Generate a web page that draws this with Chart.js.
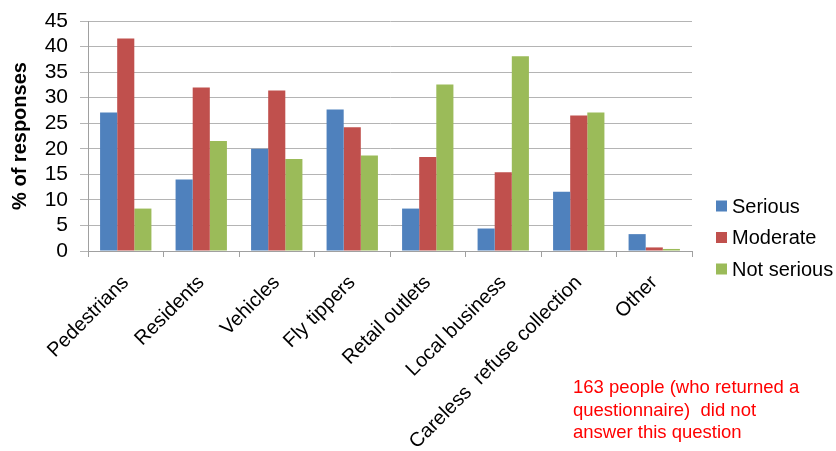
<!DOCTYPE html>
<html>
<head>
<meta charset="utf-8">
<script src="https://cdn.jsdelivr.net/npm/chart.js@4"></script>
<style>
  html, body { margin: 0; padding: 0; background: #fff; }
  #wrap { position: relative; width: 836px; height: 451px; }
</style>
</head>
<body>
<div id="wrap"><canvas id="chart" width="836" height="451"></canvas></div>
<script>
// ---------- DATA ----------
const categories = ['Pedestrians', 'Residents', 'Vehicles', 'Fly tippers', 'Retail outlets',
    'Local business', 'Careless  refuse collection', 'Other'];
const seriesNames = ['Serious', 'Moderate', 'Not serious'];
const serious = [27.1, 14.0, 20.0, 27.7, 8.3, 4.4, 11.6, 3.3];
const moderate = [41.6, 32.0, 31.4, 24.2, 18.4, 15.4, 26.5, 0.7];
const notSerious = [8.3, 21.5, 18.0, 18.7, 32.6, 38.1, 27.1, 0.4];
const yTicks = [0, 5, 10, 15, 20, 25, 30, 35, 40, 45];
const noteLines = ['163 people (who returned a', 'questionnaire)  did not', 'answer this question'];

const colors = ['#4F81BD', '#C0504D', '#9BBB59'];
const FONT = '"Liberation Sans", Arial, sans-serif';

// legend + note drawn on the canvas
const sidePlugin = {
    id: 'side',
    afterDraw(chart) {
        const ctx = chart.ctx;
        ctx.save();
        ctx.font = '20px ' + FONT;
        ctx.textBaseline = 'middle';
        ctx.textAlign = 'left';
        chart.data.datasets.forEach((ds, i) => {
            const y = 206 + i * 31.5;
            ctx.fillStyle = ds.backgroundColor;
            ctx.fillRect(716, y - 5.5, 11, 11);
            ctx.fillStyle = '#000';
            ctx.fillText(ds.label, 732, y + 1);
        });
        ctx.font = '18.5px ' + FONT;
        ctx.fillStyle = '#FF0000';
        noteLines.forEach((t, i) => ctx.fillText(t, 573, 388 + i * 22.5));
        ctx.restore();
    }
};

new Chart(document.getElementById('chart'), {
    type: 'bar',
    data: {
        labels: categories,
        datasets: [serious, moderate, notSerious].map((d, i) => ({
            label: seriesNames[i],
            data: d,
            backgroundColor: colors[i],
            categoryPercentage: 0.68,
            barPercentage: 1.0
        }))
    },
    options: {
        responsive: false,
        animation: false,
        layout: { padding: { top: 21, right: 144, left: 0, bottom: 0 } },
        plugins: { legend: { display: false }, tooltip: { enabled: false } },
        scales: {
            x: {
                afterFit: s => { s.height = 200; },
                grid: { drawOnChartArea: false, drawTicks: true, tickLength: 6, color: '#A0A0A0' },
                border: { color: '#A0A0A0' },
                ticks: {
                    minRotation: 45, maxRotation: 45, autoSkip: false,
                    color: '#000', font: { family: FONT, size: 20 }, padding: 14
                }
            },
            y: {
                min: 0, max: 45,
                afterFit: s => { s.width = 88; s.paddingTop = 0; },
                afterBuildTicks: s => { s.ticks = yTicks.map(v => ({ value: v })); },
                grid: { color: '#B4B4B4', tickLength: 8 },
                border: { color: '#A0A0A0' },
                ticks: { stepSize: 5, autoSkip: false, color: '#000', font: { family: FONT, size: 21, lineHeight: 1 }, padding: 12 },
                title: {
                    display: true, text: '% of responses', color: '#000',
                    font: { family: FONT, size: 20, weight: 'bold' }, padding: { top: 8, bottom: 0 }
                }
            }
        }
    },
    plugins: [sidePlugin]
});
</script>
</body>
</html>
